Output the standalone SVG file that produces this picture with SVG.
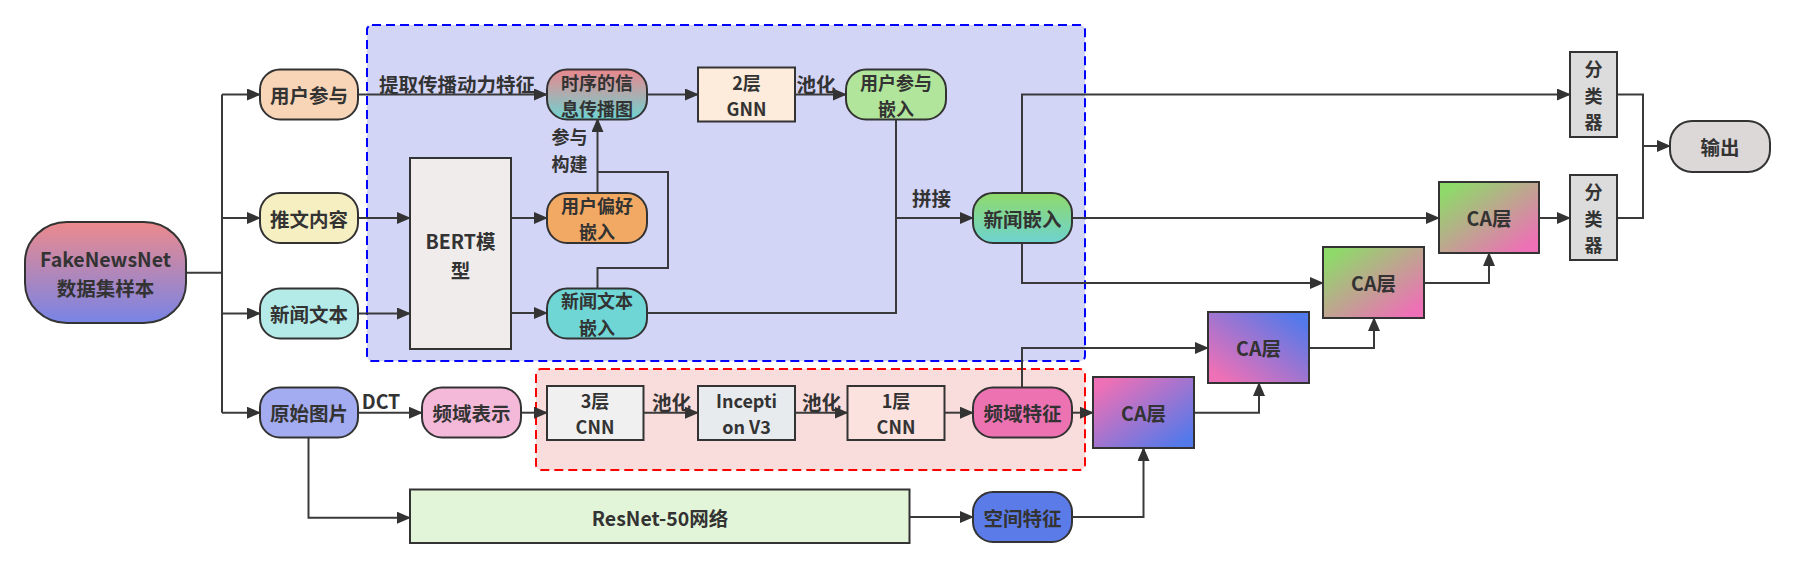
<svg xmlns="http://www.w3.org/2000/svg" width="1794" height="568" viewBox="0 0 1794 568">
<defs>
<style>
text{font-family:"Noto Sans CJK SC","Noto Sans",sans-serif;font-weight:bold;font-size:19.5px;fill:#333;text-anchor:middle;dominant-baseline:central}
text.m{font-size:18px}
.n{stroke:#333;stroke-width:2}
.e{fill:none;stroke:#3a3a3a;stroke-width:2}
.a{marker-end:url(#ah)}
</style>
<marker id="ah" markerUnits="userSpaceOnUse" markerWidth="14" markerHeight="12" refX="13" refY="6" orient="auto"><path d="M0,0 L14,6 L0,12 z" fill="#333"/></marker>
<linearGradient id="gFake" x1="0" y1="0" x2="0" y2="1"><stop offset="0" stop-color="#ec8a8c"/><stop offset="1" stop-color="#7884e6"/></linearGradient>
<linearGradient id="gSeq" x1="0" y1="0" x2="0" y2="1"><stop offset="0" stop-color="#ea878d"/><stop offset="1" stop-color="#6dd4d2"/></linearGradient>
<linearGradient id="gNews" x1="0" y1="0" x2="0" y2="1"><stop offset="0" stop-color="#8fd96a"/><stop offset="1" stop-color="#6dd3d0"/></linearGradient>
<linearGradient id="gGP" x1="0" y1="0" x2="1" y2="1"><stop offset="0.1" stop-color="#8fd96a"/><stop offset="0.9" stop-color="#ee70b6"/></linearGradient>
<linearGradient id="gPB1" x1="0" y1="1" x2="1" y2="0"><stop offset="0.1" stop-color="#ee70b6"/><stop offset="0.9" stop-color="#5479ea"/></linearGradient>
<linearGradient id="gPB2" x1="0" y1="0" x2="1" y2="1"><stop offset="0.1" stop-color="#ee70b6"/><stop offset="0.9" stop-color="#5479ea"/></linearGradient>
</defs>

<g id="group-text">
<rect x="367" y="25" width="718" height="336" rx="5" fill="#d3d5f7" stroke="#0000ff" stroke-width="2" stroke-dasharray="9,5"/>
</g>
<g id="group-freq">
<rect x="536" y="369" width="549" height="101" rx="5" fill="#f9dcdc" stroke="#ff0000" stroke-width="2" stroke-dasharray="9,5"/>
</g>

<g id="connectors">
<path class="e" d="M186,272.7 H222"/>
<path class="e" d="M222,94.5 V412.7"/>
<path class="e a" d="M222,94.5 H260"/>
<path class="e a" d="M222,218 H260"/>
<path class="e a" d="M222,313.5 H260"/>
<path class="e a" d="M222,412.7 H260"/>
<path class="e a" d="M358,94.5 H547"/>
<path class="e a" d="M358,218 H410"/>
<path class="e a" d="M358,313.5 H410"/>
<path class="e a" d="M511,218 H547"/>
<path class="e a" d="M511,313 H547"/>
<path class="e a" d="M597.5,193 V119"/>
<path class="e" d="M597.5,288 V268 H668 V172 H597.5"/>
<path class="e a" d="M647,94.5 H698"/>
<path class="e a" d="M795,94.5 H846"/>
<path class="e" d="M896,119 V313 H647"/>
<path class="e a" d="M896,218 H973"/>
<path class="e a" d="M1022,193 V94.5 H1570"/>
<path class="e a" d="M1072,218 H1439"/>
<path class="e a" d="M1022,243 V283 H1323"/>
<path class="e a" d="M1539,218 H1570"/>
<path class="e" d="M1617,94.5 H1643 V218 H1617"/>
<path class="e a" d="M1643,146 H1670"/>
<path class="e a" d="M1424,283 H1489 V253"/>
<path class="e a" d="M1309,348 H1374 V318"/>
<path class="e a" d="M1194,412.7 H1259 V383"/>
<path class="e a" d="M1072,517 H1143.5 V448"/>
<path class="e a" d="M1022,387 V348 H1208"/>
<path class="e a" d="M1072,412.7 H1093"/>
<path class="e a" d="M358,412.7 H422"/>
<path class="e a" d="M521,412.7 H547"/>
<path class="e a" d="M643.5,412.7 H698"/>
<path class="e a" d="M795,412.7 H847.5"/>
<path class="e a" d="M945,412.7 H973"/>
<path class="e a" d="M308.5,438 V517.7 H410"/>
<path class="e a" d="M909.5,517 H973"/>
<text x="457" y="83">提取传播动力特征</text>
<text class="m" x="569.5" y="136">参与<tspan x="569.5" dy="26.5">构建</tspan></text>
<text x="816" y="83">池化</text>
<text x="931.5" y="197">拼接</text>
<text x="381" y="400">DCT</text>
<text x="671.5" y="401">池化</text>
<text x="821.5" y="401">池化</text>
</g>

<g id="fakenewsnet"><rect class="n" x="25" y="222" width="161" height="101" rx="42" ry="40" fill="url(#gFake)"/><text x="105.5" y="258.5">FakeNewsNet<tspan x="105.5" dy="28.5">数据集样本</tspan></text></g>
<g id="user-engage"><rect class="n" x="260" y="69.5" width="98" height="50" rx="20" fill="#f8d5b6"/><text x="309" y="94.5">用户参与</text></g>
<g id="tweet"><rect class="n" x="260" y="193" width="98" height="50" rx="20" fill="#f6efc1"/><text x="309" y="218">推文内容</text></g>
<g id="news-text"><rect class="n" x="260" y="288.5" width="98" height="50" rx="20" fill="#b4ebe8"/><text x="309" y="313.5">新闻文本</text></g>
<g id="raw-image"><rect class="n" x="260" y="387.5" width="98" height="50" rx="20" fill="#a3acf0"/><text x="309" y="412.5">原始图片</text></g>
<g id="bert"><rect class="n" x="410" y="158" width="101" height="191" fill="#efeceb"/><text x="460.5" y="240.5">BERT模<tspan x="460.5" dy="28.5">型</tspan></text></g>
<g id="seq-graph"><rect class="n" x="547" y="69.5" width="100" height="50" rx="20" fill="url(#gSeq)"/><text class="m" x="597" y="81.5">时序的信<tspan x="597" dy="26.5">息传播图</tspan></text></g>
<g id="user-pref"><rect class="n" x="547" y="193" width="100" height="50" rx="20" fill="#f2a964"/><text class="m" x="597" y="204.5">用户偏好<tspan x="597" dy="26.5">嵌入</tspan></text></g>
<g id="news-text-emb"><rect class="n" x="547" y="288.5" width="100" height="50" rx="20" fill="#6fd5d5"/><text class="m" x="597" y="300">新闻文本<tspan x="597" dy="26.5">嵌入</tspan></text></g>
<g id="gnn"><rect class="n" x="698" y="67.5" width="97" height="54" fill="#fdebdc"/><text class="m" x="746.5" y="81.5">2层<tspan x="746.5" dy="26.5">GNN</tspan></text></g>
<g id="user-emb"><rect class="n" x="846" y="69.5" width="100" height="50" rx="20" fill="#b1e59b"/><text class="m" x="896" y="81.5">用户参与<tspan x="896" dy="26.5">嵌入</tspan></text></g>
<g id="news-emb"><rect class="n" x="973" y="193" width="99" height="50" rx="20" fill="url(#gNews)"/><text x="1022.5" y="218">新闻嵌入</text></g>
<g id="freq-repr"><rect class="n" x="422" y="387.5" width="99" height="50" rx="20" fill="#f4b9d9"/><text x="471.5" y="412.5">频域表示</text></g>
<g id="cnn3"><rect class="n" x="547" y="386" width="96.5" height="54" fill="#f0f0f0"/><text class="m" x="595" y="399.5">3层<tspan x="595" dy="26.5">CNN</tspan></text></g>
<g id="inception"><rect class="n" x="698" y="386" width="97" height="54" fill="#e8ebee"/><text class="m" x="746.5" y="399.5">Incepti<tspan x="746.5" dy="26.5">on V3</tspan></text></g>
<g id="cnn1"><rect class="n" x="847.5" y="386" width="97" height="54" fill="#fce2df"/><text class="m" x="896" y="399.5">1层<tspan x="896" dy="26.5">CNN</tspan></text></g>
<g id="freq-feat"><rect class="n" x="973" y="387.5" width="99" height="50" rx="20" fill="#ec72b2"/><text x="1022.5" y="412.5">频域特征</text></g>
<g id="resnet"><rect class="n" x="410" y="489.5" width="499.5" height="53.5" fill="#e3f5d9"/><text x="660" y="517">ResNet-50网络</text></g>
<g id="spatial-feat"><rect class="n" x="973" y="492" width="99" height="50" rx="20" fill="#5b7be9"/><text x="1022.5" y="517">空间特征</text></g>
<g id="ca4"><rect class="n" x="1093" y="377" width="101" height="71" fill="url(#gPB2)"/><text x="1143.5" y="412.5">CA层</text></g>
<g id="ca3"><rect class="n" x="1208" y="312" width="101" height="71" fill="url(#gPB1)"/><text x="1258.5" y="347.5">CA层</text></g>
<g id="ca2"><rect class="n" x="1323" y="247" width="101" height="71" fill="url(#gGP)"/><text x="1373.5" y="282.5">CA层</text></g>
<g id="ca1"><rect class="n" x="1439" y="182" width="100" height="71" fill="url(#gGP)"/><text x="1489" y="217.5">CA层</text></g>
<g id="classifier1"><rect class="n" x="1570" y="52" width="47" height="85" fill="#dcdcdc"/><text class="m" x="1593.5" y="68">分<tspan x="1593.5" dy="26.5">类</tspan><tspan x="1593.5" dy="26.5">器</tspan></text></g>
<g id="classifier2"><rect class="n" x="1570" y="175" width="47" height="85" fill="#dcdcdc"/><text class="m" x="1593.5" y="191">分<tspan x="1593.5" dy="26.5">类</tspan><tspan x="1593.5" dy="26.5">器</tspan></text></g>
<g id="output"><rect class="n" x="1670" y="121" width="100" height="51" rx="22" fill="#ddd8d8"/><text x="1720" y="146">输出</text></g>
</svg>
